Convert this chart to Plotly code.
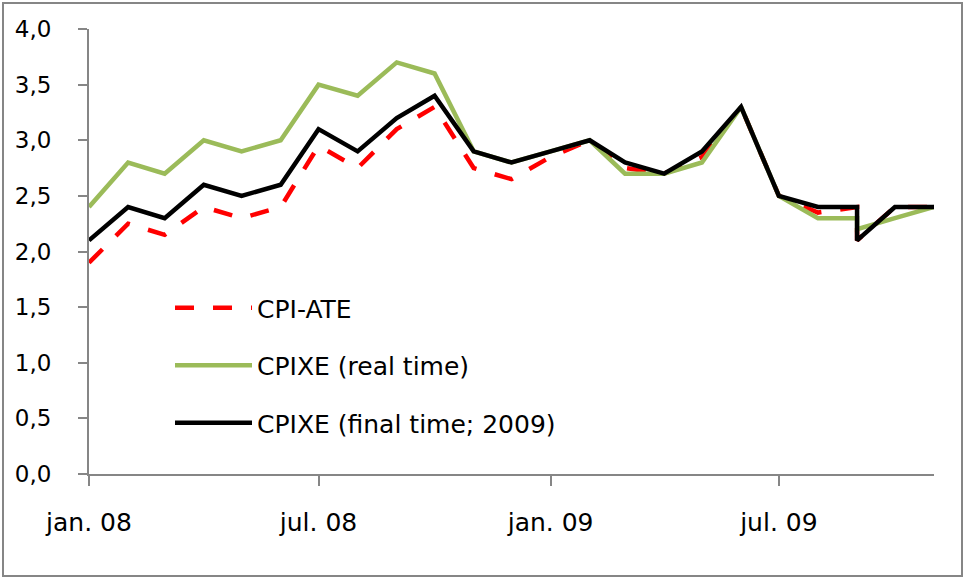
import plotly.graph_objects as go

dates = ["2008-01-01", "2008-02-01", "2008-03-01", "2008-04-01", "2008-05-01", "2008-06-01",
         "2008-07-01", "2008-08-01", "2008-09-01", "2008-10-01", "2008-11-01", "2008-12-01",
         "2009-01-01", "2009-02-01", "2009-03-01", "2009-04-01", "2009-05-01", "2009-06-01",
         "2009-07-01", "2009-08-01", "2009-09-01", "2009-09-01", "2009-10-01", "2009-11-01"]

cpi_ate = [1.9, 2.25, 2.15, 2.4, 2.3, 2.4, 2.95, 2.75, 3.1, 3.3, 2.75, 2.65,
           2.85, 3.0, 2.75, 2.7, 2.85, 3.3, 2.5, 2.35, 2.4, 2.1, 2.4, 2.4]
cpixe_real = [2.4, 2.8, 2.7, 3.0, 2.9, 3.0, 3.5, 3.4, 3.7, 3.6, 2.9, 2.8,
              2.9, 3.0, 2.7, 2.7, 2.8, 3.3, 2.5, 2.3, 2.3, 2.2, 2.3, 2.4]
cpixe_final = [2.1, 2.4, 2.3, 2.6, 2.5, 2.6, 3.1, 2.9, 3.2, 3.4, 2.9, 2.8,
               2.9, 3.0, 2.8, 2.7, 2.9, 3.3, 2.5, 2.4, 2.4, 2.1, 2.4, 2.4]

tick_dates = ["2008-01-01", "2008-07-01", "2009-01-01", "2009-07-01"]
tick_labels = ["jan. 08", "jul. 08", "jan. 09", "jul. 09"]
y_ticks = [0, 0.5, 1.0, 1.5, 2.0, 2.5, 3.0, 3.5, 4.0]

names = ["CPI-ATE", "CPIXE (real time)", "CPIXE (final time; 2009)"]

fig = go.Figure()
fig.add_trace(go.Scatter(x=dates, y=cpi_ate, mode="lines", name=names[0], legendgroup="a",
                         line=dict(color="#FF0000", width=4.5, dash="19px,19px")))
fig.add_trace(go.Scatter(x=dates, y=cpixe_real, mode="lines", name=names[1], legendgroup="b",
                         line=dict(color="#9BBB59", width=4.5)))
fig.add_trace(go.Scatter(x=dates, y=cpixe_final, mode="lines", name=names[2], legendgroup="c",
                         line=dict(color="#000000", width=4.5)))

L, R, T, B = 89, 31, 29, 104
W, H = 965, 578
pw = W - L - R
ph = H - T - B

fig.update_layout(
    width=W, height=H,
    margin=dict(l=L, r=R, t=T, b=B, autoexpand=False),
    paper_bgcolor="white", plot_bgcolor="white",
    separators=", ",
    font=dict(family="DejaVu Sans", color="#000000"),
    showlegend=True,
    legend=dict(xref="paper", yref="paper", x=(170 - L) / pw, y=(H - B - 285) / ph,
                xanchor="left", yanchor="top", bgcolor="rgba(0,0,0,0)",
                font=dict(size=25, family="DejaVu Sans"), itemwidth=77,
                tracegroupgap=22),
    xaxis=dict(type="date", range=["2008-01-01", "2009-11-01"],
               tickvals=tick_dates, ticktext=tick_labels,
               showgrid=False, zeroline=False,
               showline=True, linecolor="#868686", linewidth=2,
               ticks="outside", ticklen=10, tickwidth=1.5, tickcolor="#868686",
               tickfont=dict(size=25), ticklabelstandoff=15),
    yaxis=dict(range=[0, 4], tickvals=y_ticks, tickformat=".1f",
               showgrid=False, zeroline=False,
               showline=True, linecolor="#868686", linewidth=2,
               ticks="outside", ticklen=9, tickwidth=1.5, tickcolor="#868686",
               tickfont=dict(size=23), ticklabelstandoff=22),
    shapes=[dict(type="rect", xref="paper", yref="paper",
                 x0=(3 - L) / pw, x1=(962 - L) / pw,
                 y0=(H - B - 576) / ph, y1=(H - B - 3) / ph,
                 line=dict(color="#868686", width=2), fillcolor="rgba(0,0,0,0)", layer="below")],
)

fig.write_html("out.html", config={"displayModeBar": False},
               post_script="document.body.style.margin='0';document.body.style.overflow='hidden';")
